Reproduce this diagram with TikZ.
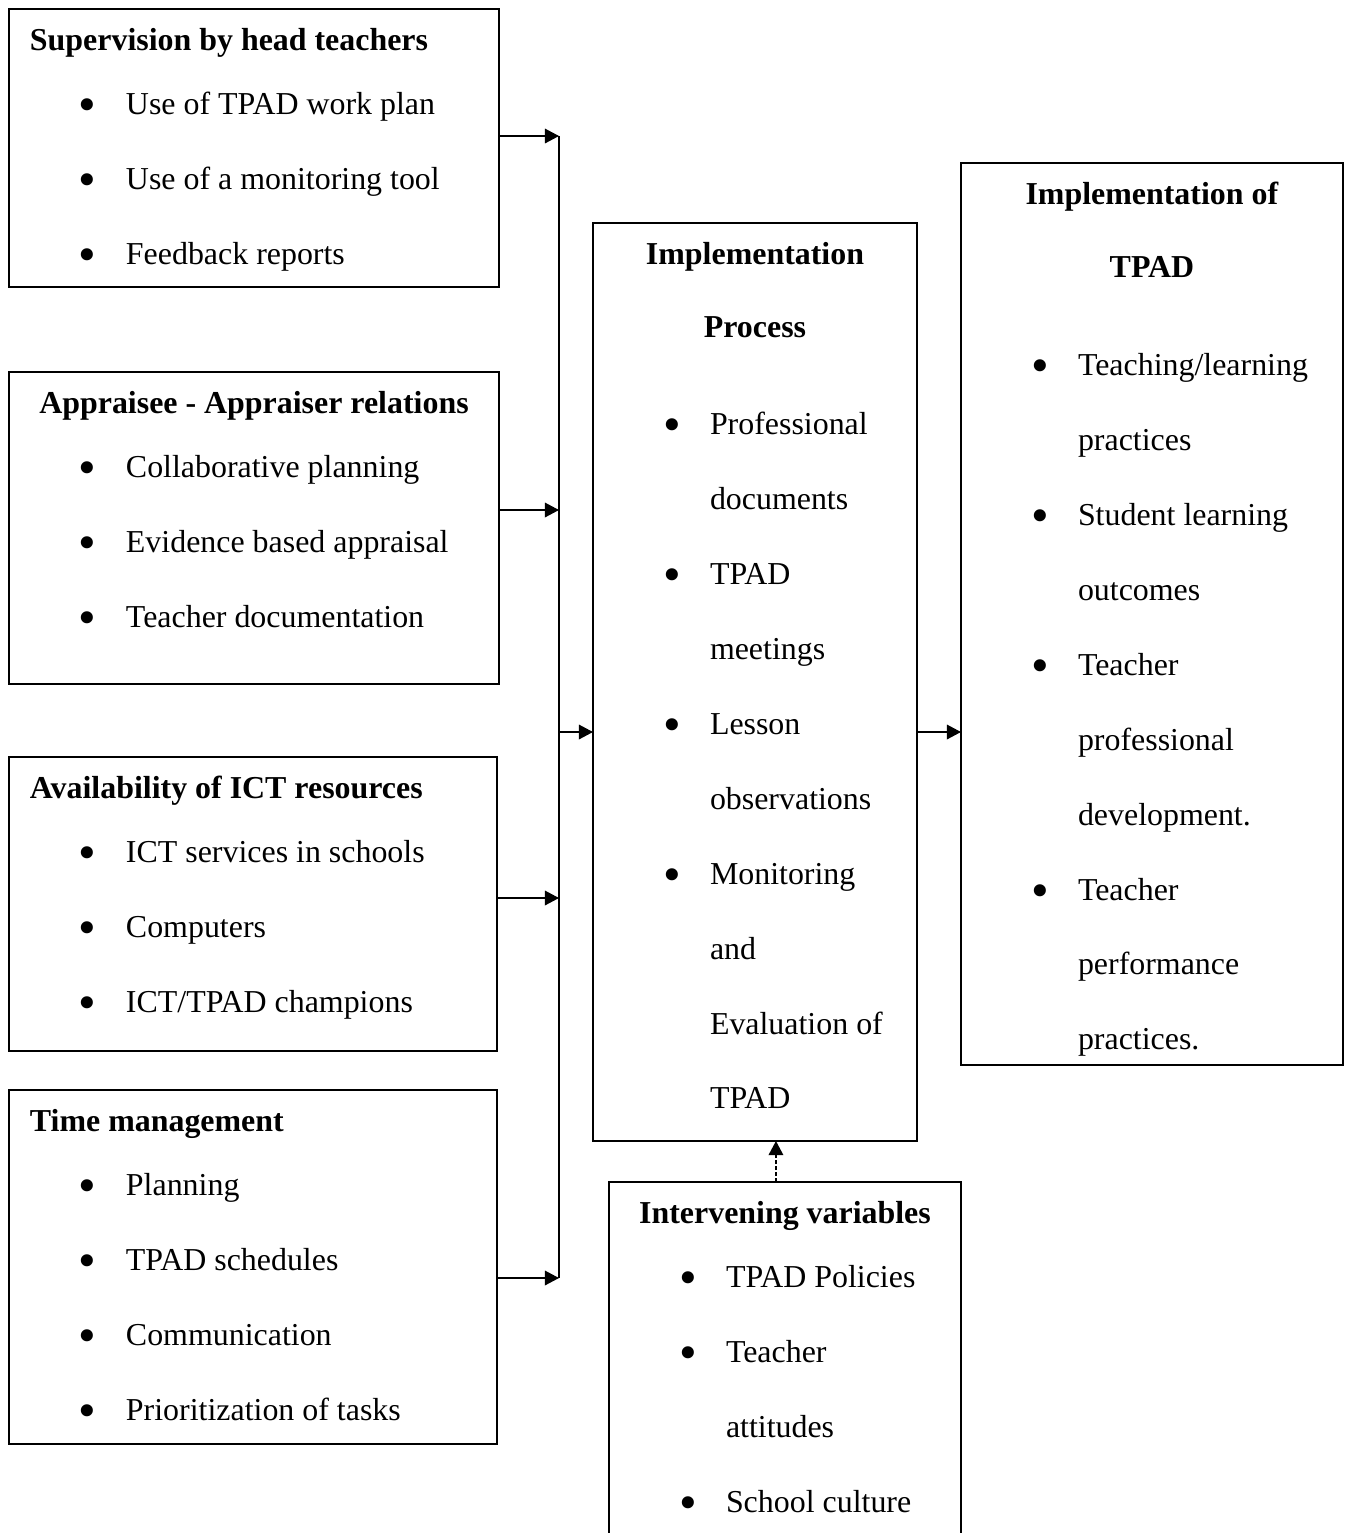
\documentclass[tikz,border=0pt]{standalone}
\usepackage{fontspec}
\setmainfont{Liberation Serif}
\usetikzlibrary{arrows.meta}
\newlength{\unitpx}\setlength{\unitpx}{0.376pt}
\newcommand{\boxtext}[3]{\parbox[c][#2\unitpx][t]{#1\unitpx}{\rule{0pt}{41\unitpx}#3}}
\newcommand{\ltitle}[1]{\hspace*{21\unitpx}\textbf{#1}}
\newcommand{\ctitle}[1]{\makebox[\linewidth]{\textbf{#1}}}
\newcommand{\bigdot}{\raisebox{-2.9pt}{\fontsize{19}{19}\selectfont\textbullet}}
\newcommand{\bul}[1]{\hspace*{70\unitpx}\makebox[47\unitpx][l]{\bigdot}#1}
\newcommand{\cont}[1]{\hspace*{117\unitpx}#1}
\tikzstyle{block} = [draw, line width=0.75pt, inner sep=0pt, outer sep=0pt, anchor=north west, font=\fontsize{12}{28.2}\selectfont]
\tikzstyle{arrow} = [line width=0.5pt, -{Triangle[length=5.3pt,width=5.5pt]}]
\tikzstyle{bus} = [line width=0.45pt]
\begin{document}
\begin{tikzpicture}[x=0.376pt, y=-0.376pt]
\useasboundingbox (0,0) rectangle (1346,1533);
\node[block] (sup) at (9,9) {\boxtext{490}{278}{\ltitle{Supervision by head teachers}\\[-11\unitpx]
\bul{Use of TPAD work plan}\\
\bul{Use of a monitoring tool}\\
\bul{Feedback reports}}};
\node[block] (appr) at (9,372) {\boxtext{490}{312}{\ctitle{Appraisee - Appraiser relations}\\[-11\unitpx]
\bul{Collaborative planning}\\
\bul{Evidence based appraisal}\\
\bul{Teacher documentation}}};
\node[block] (ict) at (9,757) {\boxtext{488}{294}{\ltitle{Availability of ICT resources}\\[-11\unitpx]
\bul{ICT services in schools}\\
\bul{Computers}\\
\bul{ICT/TPAD champions}}};
\node[block] (time) at (9,1090) {\boxtext{488}{354}{\ltitle{Time management}\\[-11\unitpx]
\bul{Planning}\\
\bul{TPAD schedules}\\
\bul{Communication}\\
\bul{Prioritization of tasks}}};
\node[block] (proc) at (593,223) {\boxtext{324}{918}{\ctitle{Implementation}\\[-2\unitpx]
\ctitle{Process}\\[22\unitpx]
\bul{Professional}\\
\cont{documents}\\
\bul{TPAD}\\
\cont{meetings}\\
\bul{Lesson}\\
\cont{observations}\\
\bul{Monitoring}\\
\cont{and}\\
\cont{Evaluation of}\\
\cont{TPAD}}};
\node[block] (outc) at (961,163) {\boxtext{382}{902}{\ctitle{Implementation of}\\[-2\unitpx]
\ctitle{TPAD}\\[23\unitpx]
\bul{Teaching/learning}\\
\cont{practices}\\
\bul{Student learning}\\
\cont{outcomes}\\
\bul{Teacher}\\
\cont{professional}\\
\cont{development.}\\
\bul{Teacher}\\
\cont{performance}\\
\cont{practices.}}};
\node[block] (interv) at (609,1182) {\boxtext{352}{400}{\ctitle{Intervening variables}\\[-11\unitpx]
\bul{TPAD Policies}\\
\bul{Teacher}\\
\cont{attitudes}\\
\bul{School culture}}};

\coordinate (b1) at (559,136);
\coordinate (b2) at (559,510);
\coordinate (b3) at (559,898);
\coordinate (b4) at (559,1278);
\coordinate (bm) at (559,732);

\draw [bus] (b1) -- (b4);
\draw [arrow] (sup.east |- b1) -- (b1);
\draw [arrow] (appr.east |- b2) -- (b2);
\draw [arrow] (ict.east |- b3) -- (b3);
\draw [arrow] (time.east |- b4) -- (b4);
\draw [arrow] (bm) -- (bm -| proc.west);
\draw [arrow] (bm -| proc.east) -- (bm -| outc.west);
\draw [arrow, dash pattern=on 1.5pt off 0.75pt] ([xshift=-3.4pt]interv.north) -- ([xshift=-3.4pt]interv.north |- proc.south);
\end{tikzpicture}
\end{document}
